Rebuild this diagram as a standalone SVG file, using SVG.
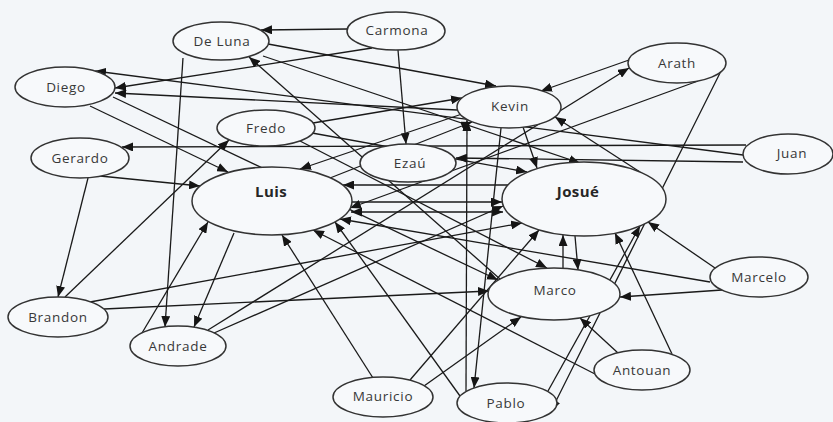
<svg xmlns="http://www.w3.org/2000/svg" width="833" height="422" viewBox="0 0 833 422">
  <style>
    .node ellipse { fill: #f7f9fb; stroke: #333333; stroke-width: 1.5; }
    .node text { font-family: "Open Sans", "Liberation Sans", sans-serif; font-size: 13.5px; fill: #383838; text-anchor: middle; letter-spacing: 0.7px; }
    .node text.big { font-weight: bold; font-size: 15px; fill: #262626; letter-spacing: 0.4px; }
    #connectors line { stroke: #1a1a1a; stroke-width: 1.3; fill: none; marker-end: url(#arrow); }
    #connectors line.both { marker-start: url(#arrowStart); }
  </style>
  <defs>
    <marker id="arrow" viewBox="0 0 11 9" refX="11" refY="4.5" markerWidth="11" markerHeight="9" markerUnits="userSpaceOnUse" orient="auto">
      <path d="M0,0 L11,4.5 L0,9 z" fill="#151515"/>
    </marker>
    <marker id="arrowStart" viewBox="0 0 11 9" refX="0" refY="4.5" markerWidth="11" markerHeight="9" markerUnits="userSpaceOnUse" orient="auto">
      <path d="M11,0 L0,4.5 L11,9 z" fill="#151515"/>
    </marker>
  </defs>
  <rect width="833" height="422" fill="#f3f6f9"/>

  <g id="connectors">
    <line x1="347" y1="29" x2="261" y2="30"/>
    <line x1="372" y1="48" x2="115" y2="88"/>
    <line x1="398" y1="50" x2="406" y2="144"/>
    <line x1="268" y1="44" x2="496" y2="86"/>
    <line x1="263" y1="56" x2="580" y2="163"/>
    <line x1="183" y1="58" x2="165" y2="327"/>
    <line x1="500" y1="279" x2="249" y2="57"/>
    <line x1="90" y1="106" x2="228" y2="172"/>
    <line x1="743" y1="155" x2="95" y2="71"/>
    <line x1="746" y1="145" x2="122" y2="147"/>
    <line x1="743" y1="162" x2="456" y2="158"/>
    <line x1="508" y1="185" x2="343" y2="185"/>
    <line x1="457" y1="110" x2="115" y2="93"/>
    <line x1="88" y1="178" x2="58" y2="297"/>
    <line x1="100" y1="176" x2="200" y2="186"/>
    <line x1="313" y1="123" x2="462" y2="98"/>
    <line x1="300" y1="141" x2="547" y2="268"/>
    <line x1="113" y1="97" x2="498" y2="280"/>
    <line x1="65" y1="297" x2="229" y2="140"/>
    <line x1="90" y1="302" x2="522" y2="223"/>
    <line x1="104" y1="309" x2="489" y2="291"/>
    <line x1="142" y1="333" x2="208" y2="222"/>
    <line x1="234" y1="233" x2="194" y2="327"/>
    <line x1="214" y1="333" x2="503" y2="206"/>
    <line x1="208" y1="330" x2="629" y2="68"/>
    <line x1="352" y1="202" x2="502" y2="202"/>
    <line class="both" x1="351" y1="212" x2="503" y2="212"/>
    <line x1="523" y1="127" x2="537" y2="168"/>
    <line x1="501" y1="128" x2="474" y2="388"/>
    <line x1="640" y1="172" x2="555" y2="117"/>
    <line x1="575" y1="236" x2="578" y2="270"/>
    <line x1="563" y1="268" x2="563" y2="235"/>
    <line x1="466" y1="391" x2="467" y2="120"/>
    <line x1="460" y1="396" x2="335" y2="222"/>
    <line x1="548" y1="391" x2="640" y2="226"/>
    <line x1="629" y1="60" x2="541" y2="91"/>
    <line x1="720" y1="73" x2="551" y2="411"/>
    <line x1="698" y1="81" x2="350" y2="208"/>
    <line x1="715" y1="268" x2="648" y2="222"/>
    <line x1="722" y1="290" x2="620" y2="297"/>
    <line x1="710" y1="282" x2="340" y2="219"/>
    <line x1="618" y1="353" x2="580" y2="318"/>
    <line x1="672" y1="354" x2="615" y2="233"/>
    <line x1="595" y1="374" x2="313" y2="230"/>
    <line x1="373" y1="378" x2="282" y2="235"/>
    <line x1="424" y1="386" x2="521" y2="317"/>
    <line x1="410" y1="380" x2="539" y2="230"/>
    <line x1="462" y1="114" x2="300" y2="169"/>
    <line x1="330" y1="178" x2="472" y2="122"/>
    <line x1="312" y1="133" x2="527" y2="172"/>
  </g>

  <g id="node-deluna" class="node"><ellipse cx="221" cy="41" rx="48" ry="19"/><text x="222" y="46">De Luna</text></g>
  <g id="node-carmona" class="node"><ellipse cx="396" cy="31" rx="49" ry="19"/><text x="397" y="35">Carmona</text></g>
  <g id="node-diego" class="node"><ellipse cx="65" cy="87" rx="50" ry="20"/><text x="66" y="92">Diego</text></g>
  <g id="node-fredo" class="node"><ellipse cx="266" cy="128" rx="49" ry="18"/><text x="266" y="133">Fredo</text></g>
  <g id="node-gerardo" class="node"><ellipse cx="80" cy="158" rx="49" ry="20"/><text x="80" y="163">Gerardo</text></g>
  <g id="node-ezau" class="node"><ellipse cx="408" cy="163" rx="48" ry="19"/><text x="410" y="168">Ezaú</text></g>
  <g id="node-kevin" class="node"><ellipse cx="509" cy="107" rx="52" ry="21"/><text x="510" y="111">Kevin</text></g>
  <g id="node-arath" class="node"><ellipse cx="677" cy="63" rx="49" ry="20"/><text x="677" y="68">Arath</text></g>
  <g id="node-juan" class="node"><ellipse cx="788" cy="154" rx="45" ry="20"/><text x="792" y="158">Juan</text></g>
  <g id="node-luis" class="node"><ellipse cx="272" cy="201" rx="80" ry="34"/><text class="big" x="271" y="197">Luis</text></g>
  <g id="node-josue" class="node"><ellipse cx="584" cy="199" rx="82" ry="37"/><text class="big" x="578" y="197">Josué</text></g>
  <g id="node-marco" class="node"><ellipse cx="554" cy="294" rx="66" ry="26"/><text x="555" y="295">Marco</text></g>
  <g id="node-marcelo" class="node"><ellipse cx="759" cy="277" rx="49" ry="20"/><text x="759" y="282">Marcelo</text></g>
  <g id="node-antouan" class="node"><ellipse cx="642" cy="370" rx="48" ry="20"/><text x="642" y="375">Antouan</text></g>
  <g id="node-pablo" class="node"><ellipse cx="507" cy="403" rx="50" ry="20"/><text x="506" y="408">Pablo</text></g>
  <g id="node-mauricio" class="node"><ellipse cx="383" cy="397" rx="50" ry="20"/><text x="383" y="401">Mauricio</text></g>
  <g id="node-brandon" class="node"><ellipse cx="58" cy="317" rx="50" ry="20"/><text x="58" y="322">Brandon</text></g>
  <g id="node-andrade" class="node"><ellipse cx="178" cy="346" rx="48" ry="20"/><text x="178" y="351">Andrade</text></g>
</svg>
